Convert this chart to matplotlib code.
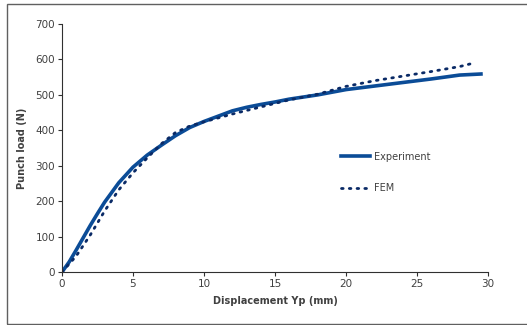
import matplotlib.pyplot as plt
from matplotlib.patches import Rectangle

# Punch load vs displacement
exp_x = [0, 0.5, 1, 1.5, 2, 2.5, 3, 4, 5, 6, 7, 8, 9, 10, 11, 12, 13, 14, 15,
         16, 18, 20, 22, 24, 26, 28, 29.5]
exp_y = [0, 28, 62, 97, 132, 165, 197, 252, 296, 330, 358, 385, 408, 425, 440,
         455, 465, 473, 480, 488, 500, 515, 525, 535, 545, 556, 559]

fem_x = [0, 1, 2, 3, 4, 5, 6, 7, 8, 9, 10, 12, 14, 16, 18, 20, 22, 24, 26, 28, 29]
fem_y = [0, 45, 105, 172, 232, 280, 322, 362, 394, 412, 424, 446, 466, 486,
         502, 524, 540, 553, 566, 580, 590]

x_ticks = [0, 5, 10, 15, 20, 25, 30]
y_ticks = [0, 100, 200, 300, 400, 500, 600, 700]

blue = '#0b4c97'
dark = '#0a2a66'
text_col = '#404040'

fig = plt.figure(figsize=(5.27, 3.25), dpi=100)
ax = fig.add_axes([0.1176, 0.163, 0.8085, 0.763])

ax.plot(exp_x, exp_y, color=blue, linewidth=2.6, label='Experiment')
ax.plot(fem_x, fem_y, color=dark, linewidth=2.0, linestyle=(0, (0.6, 2.2)),
        dash_capstyle='round', label='FEM')

ax.set_xlim(0, 30)
ax.set_ylim(0, 700)
ax.set_xticks(x_ticks)
ax.set_yticks(y_ticks)
ax.spines['top'].set_visible(False)
ax.spines['right'].set_visible(False)
for s in ['left', 'bottom']:
    ax.spines[s].set_color('#303030')
    ax.spines[s].set_linewidth(0.8)
ax.tick_params(direction='out', length=3, width=0.8, color='#303030',
               labelsize=7.5, labelcolor=text_col, pad=2)

ax.set_xlabel('Displacement Yp (mm)', fontsize=7, fontweight='bold',
              color=text_col, labelpad=5)
ax.set_ylabel('Punch load (N)', fontsize=7, fontweight='bold',
              color=text_col, labelpad=6)

ax.legend(loc='upper left', bbox_to_anchor=(0.635, 0.52), frameon=False,
          fontsize=7, labelspacing=2.2, handlelength=3.0, handletextpad=0.4,
          labelcolor=text_col)

# chart frame
fig.patches.append(Rectangle((7 / 527, 1 / 325), 1.2, 320 / 325,
                             transform=fig.transFigure, fill=False,
                             edgecolor='#606060', linewidth=1.0))

fig.savefig('out.png', dpi=100)
